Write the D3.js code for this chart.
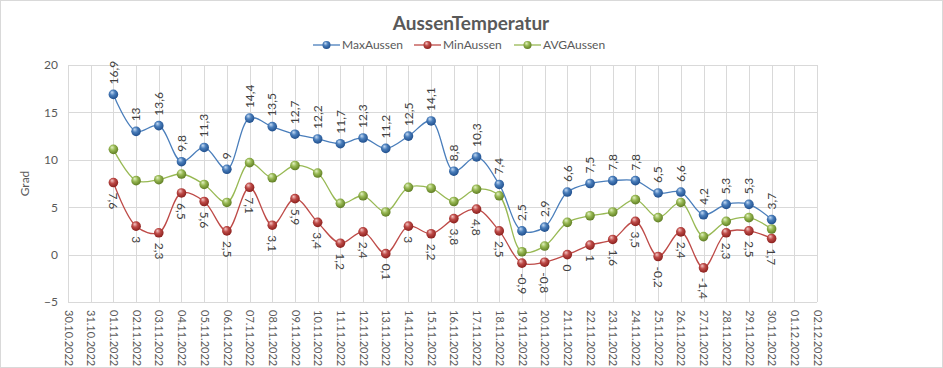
<!DOCTYPE html>
<html>
<head>
<meta charset="utf-8">
<script src="https://cdn.jsdelivr.net/npm/d3@7"></script>
<style>
  body { margin: 0; background: #fff; }
  text { font-family: Lato, "Open Sans", sans-serif; }
</style>
</head>
<body>
<div id="chart"></div>
<script>
// 943 x 368

var dates = ["01.11.2022","02.11.2022","03.11.2022","04.11.2022","05.11.2022","06.11.2022",
  "07.11.2022","08.11.2022","09.11.2022","10.11.2022","11.11.2022","12.11.2022","13.11.2022",
  "14.11.2022","15.11.2022","16.11.2022","17.11.2022","18.11.2022","19.11.2022","20.11.2022",
  "21.11.2022","22.11.2022","23.11.2022","24.11.2022","25.11.2022","26.11.2022","27.11.2022",
  "28.11.2022","29.11.2022","30.11.2022"];

var maxAussen = [16.9, 13, 13.6, 9.8, 11.3, 9, 14.4, 13.5, 12.7, 12.2, 11.7, 12.3, 11.2, 12.5, 14.1,
  8.8, 10.3, 7.4, 2.5, 2.9, 6.6, 7.5, 7.8, 7.8, 6.5, 6.6, 4.2, 5.3, 5.3, 3.7];
var minAussen = [7.6, 3, 2.3, 6.5, 5.6, 2.5, 7.1, 3.1, 5.9, 3.4, 1.2, 2.4, 0.1, 3, 2.2,
  3.8, 4.8, 2.5, -0.9, -0.8, 0, 1, 1.6, 3.5, -0.2, 2.4, -1.4, 2.3, 2.5, 1.7];
var avgAussen = [11.1, 7.8, 7.9, 8.5, 7.4, 5.5, 9.7, 8.1, 9.4, 8.6, 5.4, 6.2, 4.5, 7.1, 7.0,
  5.6, 6.9, 6.2, 0.3, 0.9, 3.4, 4.1, 4.5, 5.8, 3.9, 5.5, 1.9, 3.5, 3.9, 2.7];

var yTicks = [-5, 0, 5, 10, 15, 20];
var axisStart = "30.10.2022", axisEnd = "02.12.2022";

var W = 943, H = 368;
var margin = { top: 65, right: 126, bottom: 66, left: 68 };

var parse = d3.timeParse("%d.%m.%Y");
var fmt = d3.timeFormat("%d.%m.%Y");
var comma = function(v) { return String(v).replace(".", ","); };

var svg = d3.select("#chart").append("svg")
  .attr("width", W).attr("height", H);

svg.append("rect")
  .attr("x", 0.5).attr("y", 0.5).attr("width", W - 1).attr("height", H - 1)
  .attr("fill", "#fff").attr("stroke", "#d9d9d9");

var x = d3.scaleTime()
  .domain([parse(axisStart), parse(axisEnd)])
  .range([margin.left, W - margin.right]);
var y = d3.scaleLinear()
  .domain([-5, 20])
  .range([H - margin.bottom, margin.top]);

var days = d3.timeDay.range(parse(axisStart), d3.timeDay.offset(parse(axisEnd), 1));

// Gitter
var grid = svg.append("g").attr("stroke", "#d9d9d9").attr("shape-rendering", "crispEdges");
grid.selectAll(".v").data(days).enter().append("line")
  .attr("x1", d => Math.round(x(d)) + 0.5).attr("x2", d => Math.round(x(d)) + 0.5)
  .attr("y1", y(20)).attr("y2", y(-5));
grid.selectAll(".h").data(yTicks).enter().append("line")
  .attr("x1", x.range()[0]).attr("x2", x.range()[1])
  .attr("y1", d => Math.round(y(d)) + 0.5).attr("y2", d => Math.round(y(d)) + 0.5);

// Y-Achse
var yAxis = svg.append("g")
  .attr("transform", "translate(" + margin.left + ",0)")
  .call(d3.axisLeft(y).tickValues(yTicks).tickSize(0).tickPadding(10));
yAxis.select(".domain").remove();
yAxis.selectAll("text").attr("font-size", "12px").attr("fill", "#595959");

// X-Achse
var xAxis = svg.append("g")
  .attr("transform", "translate(0," + (H - margin.bottom) + ")")
  .call(d3.axisBottom(x).tickValues(days).tickFormat(fmt).tickSize(0));
xAxis.select(".domain").remove();
xAxis.selectAll("text")
  .attr("font-size", "11px").attr("fill", "#595959")
  .attr("text-anchor", "start")
  .attr("transform", "rotate(90)")
  .attr("x", 8).attr("y", 0).attr("dy", "0.35em");

svg.append("text")
  .attr("transform", "translate(29," + ((y(20) + y(-5)) / 2) + ") rotate(-90)")
  .attr("text-anchor", "middle")
  .attr("font-size", "12px").attr("fill", "#595959")
  .text("Grad");

svg.append("text")
  .attr("x", 471).attr("y", 30)
  .attr("text-anchor", "middle")
  .attr("font-size", "19px").attr("font-weight", "bold").attr("fill", "#595959")
  .text("AussenTemperatur");

var series = [
  { name: "MaxAussen", values: maxAussen, color: "#4a7ebb", dark: "#1f4e8c", light: "#c6dcf5", label: "above" },
  { name: "MinAussen", values: minAussen, color: "#be4b48", dark: "#8a1f1c", light: "#f5c8c6", label: "below" },
  { name: "AVGAussen", values: avgAussen, color: "#98b954", dark: "#5e7c22", light: "#e4f2c4", label: null }
];

var defs = svg.append("defs");
series.forEach(function(s, i) {
  var g = defs.append("radialGradient").attr("id", "ball" + i)
    .attr("cx", "45%").attr("cy", "40%").attr("r", "60%")
    .attr("fx", "35%").attr("fy", "28%");
  g.append("stop").attr("offset", "0%").attr("stop-color", s.light);
  g.append("stop").attr("offset", "45%").attr("stop-color", s.color);
  g.append("stop").attr("offset", "100%").attr("stop-color", s.dark);
});

var line = d3.line()
  .x(d => x(parse(d.date)))
  .y(d => y(d.v))
  .curve(d3.curveCatmullRom.alpha(0.5));

// zeichne AVG zuerst, dann Min, dann Max
[2, 1, 0].forEach(function(i) {
  var s = series[i];
  var pts = dates.map((d, k) => ({ date: d, v: s.values[k] }));
  svg.append("path").datum(pts)
    .attr("fill", "none").attr("stroke", s.color).attr("stroke-width", 1.3)
    .attr("d", line);
  svg.append("g").selectAll("circle").data(pts).enter().append("circle")
    .attr("cx", d => x(parse(d.date))).attr("cy", d => y(d.v))
    .attr("r", 4.8)
    .attr("fill", "url(#ball" + i + ")");
  if (s.label) {
    svg.append("g").selectAll("text").data(pts).enter().append("text")
      .attr("font-size", "12px").attr("fill", "#404040")
      .attr("text-anchor", "start")
      .attr("dy", "0.35em")
      .attr("transform", function(d) {
        var px = x(parse(d.date)), py = y(d.v);
        return s.label === "above"
          ? "translate(" + px + "," + (py - 10) + ") rotate(-90)"
          : "translate(" + px + "," + (py + 10) + ") rotate(90)";
      })
      .text(d => comma(d.v));
  }
});

// Legende
var legendX = [313, 414, 514];
series.forEach(function(s, i) {
  var g = svg.append("g").attr("transform", "translate(" + legendX[i] + ",45)");
  g.append("line").attr("x1", 0).attr("x2", 27).attr("stroke", s.color).attr("stroke-width", 1.3);
  g.append("circle").attr("cx", 13.5).attr("r", 4).attr("fill", "url(#ball" + i + ")");
  g.append("text").attr("x", 29).attr("dy", "0.35em")
    .attr("font-size", "12px").attr("fill", "#595959")
    .text(s.name);
});
</script>
</body>
</html>
